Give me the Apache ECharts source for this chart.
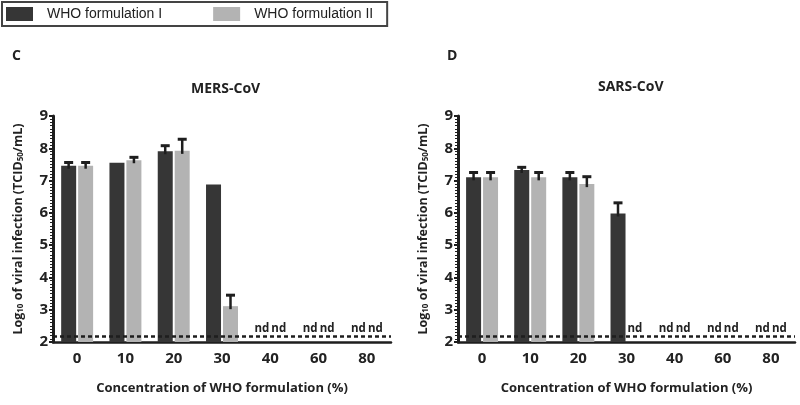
<!DOCTYPE html>
<html>
<head>
<meta charset="utf-8">
<script src="https://cdn.jsdelivr.net/npm/echarts@6/dist/echarts.min.js"></script>
<style>html,body{margin:0;padding:0;background:#fff;}#c{width:800px;height:405px;}</style>
</head>
<body>
<div id="c"></div>
<script>
// ---- data ----
const categories = ['0', '10', '20', '30', '40', '60', '80'];
const seriesNames = ['WHO formulation I', 'WHO formulation II'];
const yTicks = [2, 3, 4, 5, 6, 7, 8, 9];
const detectionLimit = 2.19;
// MERS-CoV (null = not detected, "nd")
const mersI = [7.46, 7.55, 7.91, 6.88, null, null, null];
const mersIErr = [0.10, 0, 0.17, 0, 0, 0, 0];
const mersII = [7.46, 7.63, 7.92, 3.11, null, null, null];
const mersIIErr = [0.10, 0.09, 0.36, 0.34, 0, 0, 0];
// SARS-CoV
const sarsI = [7.10, 7.33, 7.10, 5.98, null, null, null];
const sarsIErr = [0.15, 0.08, 0.15, 0.33, 0, 0, 0];
const sarsII = [7.10, 7.10, 6.89, null, null, null, null];
const sarsIIErr = [0.15, 0.15, 0.23, 0, 0, 0, 0];
const panelTitles = ['MERS-CoV', 'SARS-CoV'];
const panelLetters = ['C', 'D'];

// ---- styling ----
const DARK = '#363636';
const LIGHT = '#b3b3b3';
const AX = '#1e1e1e';
const FONT = "'Open Sans', sans-serif";
const BAR_W = 15;
const HALF = 8.5;

function barData(vals) {
  return vals.map(v => v === null
    ? { value: detectionLimit, itemStyle: { color: 'rgba(0,0,0,0)' },
        label: { show: true, position: 'top', distance: 1, formatter: 'nd',
                 fontFamily: FONT, fontWeight: 'bold', fontSize: 11.5, color: '#222' } }
    : v);
}
function errData(vals, errs) {
  const out = [];
  vals.forEach((v, i) => { if (v !== null && errs[i] > 0) out.push([i, v, errs[i]]); });
  return out;
}
function errSeries(idx, vals, errs, dx) {
  return {
    type: 'custom', xAxisIndex: idx, yAxisIndex: idx, z: 5, silent: true,
    data: errData(vals, errs),
    encode: { x: 0, y: 1 },
    renderItem: function (params, api) {
      const b = api.coord([api.value(0), api.value(1)]);
      const t = api.coord([api.value(0), api.value(1) + api.value(2)]);
      const x = b[0] + dx;
      const st = { stroke: AX, lineWidth: 2.5 };
      return { type: 'group', children: [
        { type: 'line', shape: { x1: x, y1: b[1] + 3, x2: x, y2: t[1] }, style: st },
        { type: 'line', shape: { x1: x - 4.5, y1: t[1], x2: x + 4.5, y2: t[1] }, style: { stroke: AX, lineWidth: 3 } }
      ]};
    }
  };
}
function barSeries(idx, name, vals, color, withLine) {
  const s = {
    name: name, type: 'bar', xAxisIndex: idx, yAxisIndex: idx,
    data: barData(vals), barWidth: BAR_W, barGap: '13%',
    itemStyle: { color: color }
  };
  if (withLine) {
    s.markLine = {
      silent: true, symbol: 'none', label: { show: false },
      lineStyle: { color: AX, type: [4, 3], width: 2.5 },
      data: [{ yAxis: detectionLimit }]
    };
  }
  return s;
}

const grids = [
  { left: 53, width: 338, top: 116, height: 226 },
  { left: 458, width: 337, top: 116, height: 226 }
];
const xAxes = grids.map((g, i) => ({
  type: 'category', gridIndex: i, data: categories,
  axisLine: { lineStyle: { color: AX, width: 2.5 } },
  axisTick: { alignWithLabel: true, interval: 0, length: 5, lineStyle: { color: AX, width: 2 } },
  axisLabel: { interval: 0, margin: 9, fontFamily: FONT, fontWeight: 'bold', fontSize: 15, color: '#222' },
  name: 'Concentration of WHO formulation (%)', nameLocation: 'middle', nameGap: 40,
  nameTextStyle: { fontFamily: FONT, fontWeight: 'bold', fontSize: 13, color: '#222' }
}));
const yAxes = grids.map((g, i) => ({
  type: 'value', gridIndex: i, min: yTicks[0], max: yTicks[yTicks.length - 1], interval: 1,
  axisLine: { show: true, lineStyle: { color: AX, width: 3 } },
  axisTick: { show: true, length: 4, lineStyle: { color: AX, width: 2 } },
  minorTick: { show: true, splitNumber: 10, length: 3, lineStyle: { color: AX, width: 1 } },
  splitLine: { show: false },
  axisLabel: { margin: 5, fontFamily: FONT, fontWeight: 'bold', fontSize: 15, color: '#222' },
  name: 'Log{sub|10} of viral infection (TCID{sub|50}/mL)',
  nameLocation: 'middle', nameRotate: 90, nameGap: 28,
  nameTextStyle: { fontFamily: FONT, fontWeight: 'bold', fontSize: 12.5, color: '#222',
    rich: { sub: { fontFamily: FONT, fontWeight: 'bold', fontSize: 8, color: '#222', verticalAlign: 'bottom', padding: [6, 0, 0, 0] } } }
}));

const option = {
  animation: false,
  backgroundColor: '#fff',
  title: [
    { text: panelLetters[0], left: 7, top: 44, textStyle: { fontFamily: FONT, fontWeight: 'bold', fontSize: 14, color: '#222' } },
    { text: panelLetters[1], left: 442, top: 44, textStyle: { fontFamily: FONT, fontWeight: 'bold', fontSize: 14, color: '#222' } },
    { text: panelTitles[0], left: 186, top: 77, textStyle: { fontFamily: FONT, fontWeight: 'bold', fontSize: 14, color: '#222' } },
    { text: panelTitles[1], left: 593, top: 75, textStyle: { fontFamily: FONT, fontWeight: 'bold', fontSize: 14, color: '#222' } }
  ],
  legend: {
    left: 2, top: 2, padding: [5, 14, 5, 4], borderColor: '#444', borderWidth: 2,
    itemWidth: 27, itemHeight: 14, itemGap: 51, icon: 'rect',
    textStyle: { fontFamily: "'Liberation Sans', Arial, sans-serif", fontSize: 14, color: '#222', padding: [0, 0, 0, 9] },
    data: seriesNames
  },
  grid: grids,
  xAxis: xAxes,
  yAxis: yAxes,
  series: [
    barSeries(0, seriesNames[0], mersI, DARK, true),
    barSeries(0, seriesNames[1], mersII, LIGHT, false),
    errSeries(0, mersI, mersIErr, -HALF),
    errSeries(0, mersII, mersIIErr, HALF),
    barSeries(1, seriesNames[0], sarsI, DARK, true),
    barSeries(1, seriesNames[1], sarsII, LIGHT, false),
    errSeries(1, sarsI, sarsIErr, -HALF),
    errSeries(1, sarsII, sarsIIErr, HALF)
  ]
};
const chart = echarts.init(document.getElementById('c'), null, { renderer: 'canvas' });
chart.setOption(option);
</script>
</body>
</html>
